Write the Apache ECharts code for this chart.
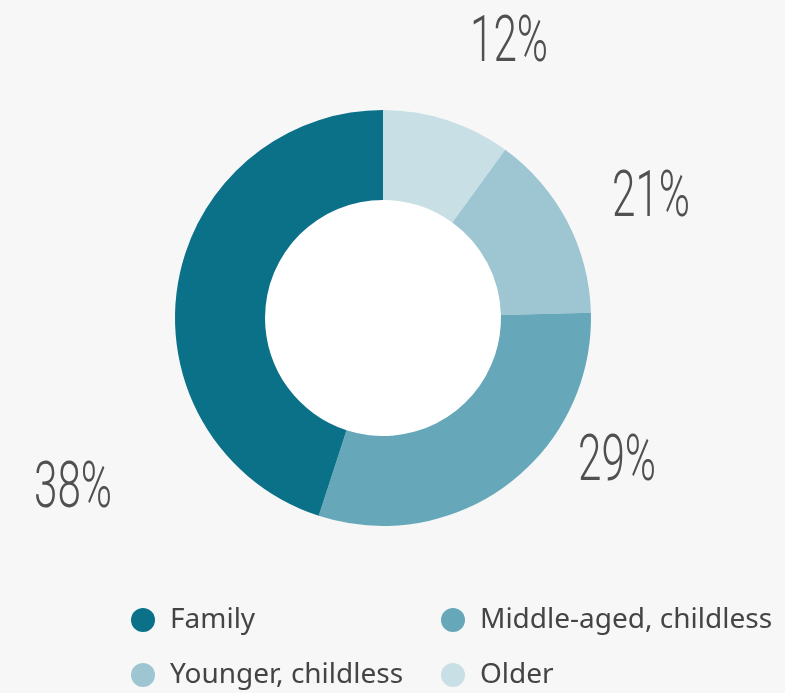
<!DOCTYPE html>
<html>
<head>
<meta charset="utf-8">
<script src="https://cdn.jsdelivr.net/npm/echarts@6/dist/echarts.min.js"></script>
<style>
html,body{margin:0;padding:0;background:#f7f7f7;}
#main{width:785px;height:693px;}
</style>
</head>
<body>
<div id="main"></div>
<script>
// Data (clockwise from 12 o'clock)
const categories = ['Older', 'Younger, childless', 'Middle-aged, childless', 'Family'];
const values = [10, 14.6, 30.4, 45];
const labelTexts = ['12%', '21%', '29%', '38%'];
const colors = ['#c8dfe5', '#9dc6d2', '#66a8ba', '#0a7189'];
const legendCol1 = ['Family', 'Younger, childless'];
const legendCol2 = ['Middle-aged, childless', 'Older'];

// label anchor positions (layout)
const labelPos = [[509, 45], [651, 200], [617, 464], [73, 491]];

const chart = echarts.init(document.getElementById('main'));

const legendCommon = {
  orient: 'vertical',
  top: 606,
  padding: 0,
  icon: 'circle',
  itemWidth: 24,
  itemHeight: 24,
  itemGap: 27,
  selectedMode: false,
  textStyle: {
    fontFamily: 'Noto Sans',
    fontSize: 28,
    color: '#444',
    padding: [0, 0, 0, 10],
    lineHeight: 24
  }
};

chart.setOption({
  backgroundColor: '#f7f7f7',
  animation: false,
  color: colors,
  legend: [
    Object.assign({}, legendCommon, { left: 131, data: legendCol1 }),
    Object.assign({}, legendCommon, { left: 441, data: legendCol2 })
  ],
  graphic: labelTexts.map((t, i) => ({
    type: 'text',
    x: labelPos[i][0],
    y: labelPos[i][1],
    scaleX: 0.66,
    silent: true,
    style: {
      text: t,
      fontFamily: 'Roboto',
      fontWeight: 300,
      fontSize: 64,
      fill: '#505050',
      align: 'center',
      verticalAlign: 'middle'
    }
  })),
  series: [
    {
      type: 'pie',
      center: [383, 318],
      radius: [0, 118],
      silent: true,
      label: { show: false },
      labelLine: { show: false },
      itemStyle: { color: '#ffffff' },
      data: [{ name: 'hole', value: 1 }]
    },
    {
      type: 'pie',
      center: [383, 318],
      radius: [118, 208],
      startAngle: 90,
      clockwise: true,
      avoidLabelOverlap: false,
      label: { show: false },
      labelLine: { show: false },
      emphasis: { scale: false },
      data: categories.map((c, i) => ({ name: c, value: values[i], itemStyle: { color: colors[i] } }))
    }
  ]
});
</script>
</body>
</html>
